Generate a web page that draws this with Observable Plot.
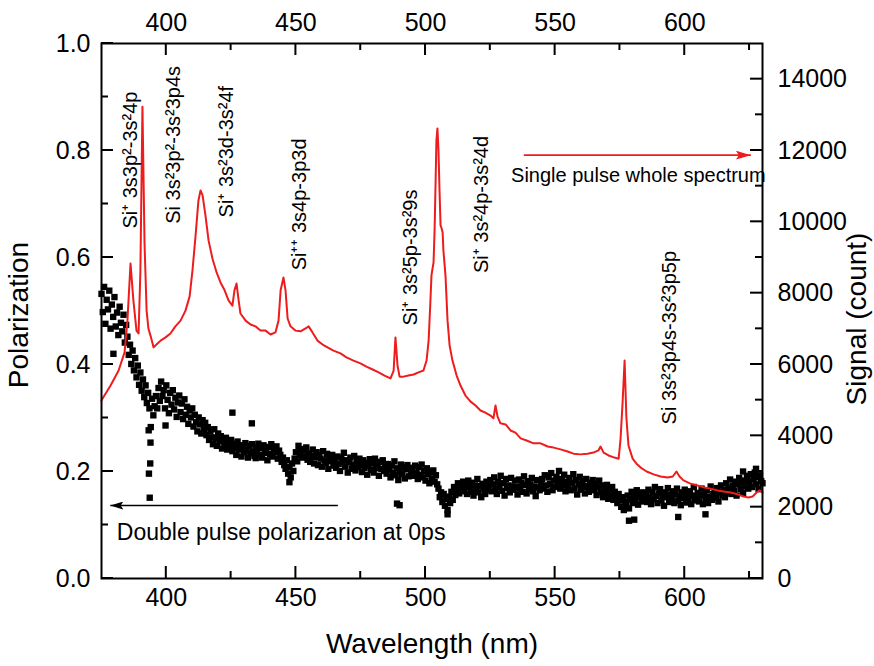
<!DOCTYPE html>
<html>
<head>
<meta charset="utf-8">
<script src="https://cdn.jsdelivr.net/npm/d3@7"></script>
<script src="https://cdn.jsdelivr.net/npm/@observablehq/plot@0.6"></script>
<style>
  html, body { margin: 0; padding: 0; background: #fff; }
  #chart svg { display: block; }
</style>
</head>
<body>
<div id="chart"></div>
<script>
// ---- Single pulse emission spectrum (right axis, counts) ----
const SIGNAL_MAX = 15000;
const signalWavelength = [
  375.0,378.5,381.6,383.9,385.0,386.2,387.3,388.5,389.3,390.0,
  390.8,391.6,392.4,393.1,393.9,395.1,396.2,397.8,399.7,401.6,
  403.5,405.5,407.4,409.0,410.1,411.3,412.4,413.2,414.0,415.1,
  416.3,417.8,419.4,420.9,422.5,424.0,425.5,426.3,427.1,427.9,
  428.6,430.6,432.5,434.4,436.3,438.3,440.2,442.1,443.3,444.1,
  445.2,446.0,446.8,447.9,449.8,451.8,453.7,454.9,456.4,458.3,
  460.3,462.2,464.5,467.2,469.5,472.2,474.9,477.2,479.6,481.9,
  484.2,486.5,487.7,488.4,489.2,490.0,491.5,493.4,495.4,497.3,
  499.2,500.4,501.2,501.9,502.3,502.7,503.1,503.5,503.9,504.2,
  504.6,505.0,505.4,505.8,506.2,506.6,506.9,507.7,508.5,509.3,
  510.4,512.0,513.5,515.4,517.4,519.3,521.2,523.1,525.1,526.2,
  527.0,527.8,528.9,530.9,532.8,534.7,536.7,539.0,541.7,544.4,
  547.1,549.4,552.1,554.8,557.1,559.8,562.5,564.8,566.7,567.5,
  568.7,570.6,572.9,574.5,575.2,576.0,576.8,577.5,578.3,579.9,
  581.4,583.0,585.3,588.0,590.7,593.4,595.4,596.8,598.0,599.5,
  602.2,604.9,607.6,610.0,612.7,615.0,617.7,620.4,622.7,624.6,
  626.2,627.7,628.9,630.0
];
const signalCount = [
  5000,5410,5830,6340,7230,8830,7800,6950,6870,8600,
  13230,9400,7510,7010,6810,6480,6560,6670,6760,6870,
  7070,7230,7510,7910,8640,9620,10600,10880,10740,10180,
  9480,8970,8580,8300,8080,7800,7650,8080,8270,7800,
  7430,7230,7120,7070,6950,6950,6840,6900,7230,8080,
  8440,8080,7290,7070,6950,6930,7010,7070,6900,6670,
  6560,6480,6390,6310,6200,6110,6030,5940,5860,5780,
  5690,5610,5830,6760,5970,5660,5660,5690,5720,5780,
  5830,6110,6670,7800,8500,8690,8860,9760,11160,12280,
  12620,12000,10880,9900,9820,9700,9200,8500,7230,6530,
  6110,5690,5410,5130,4960,4850,4710,4650,4570,4490,
  4850,4540,4350,4320,4150,4090,3930,3870,3790,3790,
  3700,3670,3620,3560,3500,3480,3500,3530,3590,3700,
  3530,3450,3390,3360,3870,4900,6110,4500,3730,3360,
  3220,3110,3000,2920,2860,2830,2860,3000,2860,2750,
  2660,2610,2550,2520,2470,2440,2410,2360,2300,2270,
  2300,2410,2470,2410
];

// ---- Double pulse polarization at 0 ps (left axis), sampled every 0.5 nm from 375 nm ----
const POL_START = 375;
const POL_STEP = 0.5;
const polarization = [
  0.532,0.498,0.545,0.476,0.521,0.503,0.538,0.467,0.512,0.489,0.526,0.471,0.497,0.455,0.508,0.478,0.462,0.493,0.441,0.474,
  0.452,0.418,0.437,0.401,0.426,0.389,0.412,0.376,0.398,0.362,0.385,0.351,0.372,0.339,0.361,0.328,0.347,0.318,0.283,0.336,
  0.305,0.322,0.341,0.318,0.356,0.332,0.368,0.341,0.352,0.318,0.361,0.334,0.309,0.347,0.325,0.352,0.316,0.338,0.302,0.329,
  0.342,0.311,0.327,0.298,0.335,0.306,0.321,0.289,0.314,0.301,0.318,0.284,0.306,0.292,0.275,0.301,0.288,0.271,0.296,0.279,
  0.291,0.268,0.283,0.259,0.276,0.264,0.251,0.279,0.262,0.248,0.271,0.256,0.266,0.243,0.258,0.249,0.263,0.241,0.255,0.246,
  0.259,0.238,0.252,0.244,0.231,0.256,0.241,0.249,0.228,0.247,0.236,0.253,0.239,0.226,0.248,0.234,0.251,0.237,0.229,0.245,
  0.238,0.252,0.231,0.244,0.226,0.249,0.235,0.242,0.221,0.246,0.233,0.251,0.228,0.240,0.236,0.247,0.224,0.239,0.231,0.218,
  0.226,0.212,0.205,0.221,0.196,0.208,0.189,0.215,0.201,0.224,0.236,0.219,0.248,0.231,0.242,0.226,0.239,0.228,0.245,0.222,
  0.234,0.218,0.229,0.241,0.215,0.227,0.236,0.212,0.231,0.224,0.209,0.238,0.221,0.216,0.233,0.205,0.226,0.219,0.231,0.211,
  0.222,0.207,0.228,0.214,0.201,0.226,0.218,0.235,0.209,0.221,0.198,0.217,0.226,0.205,0.213,0.229,0.202,0.219,0.208,0.224,
  0.212,0.199,0.221,0.207,0.216,0.194,0.211,0.223,0.203,0.215,0.198,0.224,0.206,0.213,0.192,0.218,0.205,0.221,0.201,0.211,
  0.196,0.214,0.203,0.189,0.211,0.198,0.219,0.193,0.206,0.184,0.201,0.213,0.195,0.208,0.187,0.204,0.212,0.191,0.207,0.198,
  0.205,0.192,0.211,0.197,0.186,0.208,0.194,0.213,0.189,0.201,0.183,0.206,0.195,0.178,0.199,0.187,0.202,0.181,0.193,0.176,
  0.168,0.152,0.161,0.143,0.158,0.136,0.149,0.128,0.153,0.141,0.162,0.147,0.171,0.156,0.166,0.178,0.159,0.172,0.163,0.181,
  0.168,0.176,0.158,0.183,0.171,0.162,0.179,0.155,0.174,0.166,0.186,0.161,0.173,0.152,0.177,0.169,0.158,0.181,0.165,0.175,
  0.184,0.163,0.176,0.189,0.168,0.158,0.181,0.171,0.192,0.164,0.178,0.155,0.186,0.169,0.174,0.161,0.188,0.172,0.166,0.183,
  0.171,0.157,0.185,0.168,0.179,0.162,0.191,0.175,0.159,0.182,0.167,0.176,0.188,0.163,0.172,0.154,0.184,0.170,0.165,0.179,
  0.186,0.168,0.193,0.174,0.162,0.189,0.177,0.197,0.165,0.183,0.171,0.190,0.179,0.201,0.168,0.186,0.175,0.194,0.163,0.181,
  0.172,0.188,0.165,0.179,0.195,0.168,0.184,0.157,0.176,0.190,0.166,0.181,0.171,0.159,0.186,0.173,0.162,0.179,0.168,0.184,
  0.165,0.177,0.156,0.171,0.183,0.161,0.174,0.152,0.168,0.158,0.175,0.149,0.166,0.155,0.171,0.147,0.162,0.153,0.141,0.158,
  0.146,0.134,0.152,0.128,0.143,0.137,0.155,0.131,0.148,0.162,0.141,0.156,0.149,0.165,0.138,0.159,0.152,0.144,0.161,0.147,
  0.158,0.143,0.166,0.151,0.139,0.162,0.148,0.171,0.154,0.141,0.159,0.167,0.146,0.155,0.136,0.161,0.152,0.169,0.143,0.157,
  0.149,0.163,0.141,0.157,0.168,0.145,0.153,0.137,0.161,0.150,0.166,0.142,0.158,0.147,0.163,0.139,0.155,0.171,0.146,0.152,
  0.160,0.144,0.155,0.168,0.139,0.157,0.149,0.165,0.141,0.153,0.172,0.147,0.158,0.163,0.151,0.169,0.144,0.161,0.174,0.155,
  0.166,0.152,0.178,0.161,0.170,0.185,0.158,0.173,0.164,0.181,0.155,0.176,0.188,0.167,0.179,0.160,0.183,0.172,0.192,0.168,
  0.181,0.195,0.171,0.186,0.198,0.176,0.189,0.167,0.193,0.182,0.178
];
// isolated points off the main band
const polOutlierWavelength = [379.6, 393.2, 393.9, 393.8, 393.3, 393.6, 399.7, 425.5, 433.0, 434.5, 447.5, 489.0, 490.0, 508.5, 578.5, 580.5, 597.5, 608.0, 622.5, 627.5];
const polOutlierValue      = [0.42,  0.277, 0.254, 0.215, 0.196, 0.151, 0.286, 0.31,  0.29,  0.225, 0.18,  0.14,  0.137, 0.12,  0.108, 0.11,  0.115, 0.12,  0.2,   0.205];

// ---- Axis ticks ----
const X_DOMAIN = [375, 630];
const xMajor = [400, 450, 500, 550, 600];
const xMinor = [425, 475, 525, 575, 625];
const polMajor = [0, 0.2, 0.4, 0.6, 0.8, 1.0];
const polMinor = [0.1, 0.3, 0.5, 0.7, 0.9];
const signalMajor = [0, 2000, 4000, 6000, 8000, 10000, 12000, 14000];
const signalMinor = [1000, 3000, 5000, 7000, 9000, 11000, 13000];

// ---- Emission line assignments (wavelength of label, polarization at label foot) ----
const lineLabels = [
  "Si\u207A 3s3p\u00B2-3s\u00B24p",
  "Si 3s\u00B23p\u00B2-3s\u00B23p4s",
  "Si\u207A 3s\u00B23d-3s\u00B24f",
  "Si\u207A\u207A 3s4p-3p3d",
  "Si\u207A 3s\u00B25p-3s\u00B29s",
  "Si\u207A 3s\u00B24p-3s\u00B24d",
  "Si 3s\u00B23p4s-3s\u00B23p5p"
];
const lineLabelWavelength = [386.4, 402.7, 423.3, 451.6, 494.1, 521.5, 594.2];
const lineLabelFoot = [0.654, 0.663, 0.675, 0.576, 0.473, 0.571, 0.288];

// ---- Series annotations ----
const spectrumNote = {text: "Single pulse whole spectrum", x: 533.0, y: 0.753};
const spectrumArrow = {x1: 537.9, x2: 625.5, y1: 0.7913, y2: 0.7913};
const polNote = {text: "Double pulse polarizarion at 0ps", x: 380.9, y: 0.0865};
const polArrow = {x1: 466.2, x2: 378.4, y1: 0.1364, y2: 0.1364};

// ---- Layout ----
const W = 874, H = 666, ML = 101, MR = 112, MT = 43, MB = 88;
const innerW = W - ML - MR, innerH = H - MT - MB;
const MAJOR = 12, MINOR = 7, TICK_W = 2;
const RED = "#ee1c1c";
const FONT = "'Liberation Sans', Arial, Helvetica, sans-serif";
const toPol = (s) => s / SIGNAL_MAX;
// pixel lengths converted to data units
const pxX = (px) => (px / innerW) * (X_DOMAIN[1] - X_DOMAIN[0]);
const pxY = (px) => px / innerH;

const polData = polarization
  .map((p, i) => ({wavelength: POL_START + i * POL_STEP, polarization: p}))
  .concat(polOutlierWavelength.map((w, i) => ({wavelength: w, polarization: polOutlierValue[i]})));
const signalData = signalWavelength.map((w, i) => ({wavelength: w, signal: signalCount[i]}));
const labelData = lineLabels.map((t, i) => ({text: t, wavelength: lineLabelWavelength[i], foot: lineLabelFoot[i]}));

// inward ticks on all four sides, drawn as thin filled rectangles
const half = TICK_W / 2;
const tickFill = {fill: "#000", stroke: "none", inset: 0};
const xTicks = (values, len) => [
  Plot.rect(values, {x1: (d) => d - pxX(half), x2: (d) => d + pxX(half), y1: 0, y2: pxY(len), ...tickFill}),
  Plot.rect(values, {x1: (d) => d - pxX(half), x2: (d) => d + pxX(half), y1: 1 - pxY(len), y2: 1, ...tickFill})
];
const leftTicks = (values, len) =>
  Plot.rect(values, {x1: X_DOMAIN[0], x2: X_DOMAIN[0] + pxX(len), y1: (d) => d - pxY(half), y2: (d) => d + pxY(half), ...tickFill});
const rightTicks = (values, len) =>
  Plot.rect(values, {x1: X_DOMAIN[1] - pxX(len), x2: X_DOMAIN[1], y1: (d) => toPol(d) - pxY(half), y2: (d) => toPol(d) + pxY(half), ...tickFill});

const chart = Plot.plot({
  width: W, height: H,
  marginLeft: ML, marginRight: MR, marginTop: MT, marginBottom: MB,
  style: {fontFamily: FONT, fontSize: "25px", color: "#000", background: "#fff"},
  x: {domain: X_DOMAIN},
  y: {domain: [0, 1]},
  marks: [
    // series annotation arrows (first, so their heads can be attached by order)
    Plot.link([spectrumArrow], {x1: "x1", y1: "y1", x2: "x2", y2: "y2", stroke: RED, strokeWidth: 1.6}),
    Plot.link([polArrow], {x1: "x1", y1: "y1", x2: "x2", y2: "y2", stroke: "#000", strokeWidth: 1.6}),

    // polarization scatter
    Plot.dot(polData, {x: "wavelength", y: "polarization", symbol: "square", r: 3.6, fill: "#000", stroke: "none"}),
    // emission spectrum, drawn against the signal axis
    Plot.line(signalData, {x: "wavelength", y: (d) => toPol(d.signal), stroke: RED, strokeWidth: 2}),

    ...xTicks(xMajor, MAJOR),
    ...xTicks(xMinor, MINOR),
    leftTicks(polMajor, MAJOR),
    leftTicks(polMinor, MINOR),
    rightTicks(signalMajor, MAJOR),
    rightTicks(signalMinor, MINOR),
    Plot.frame({stroke: "#000", strokeWidth: 2}),

    // tick labels
    Plot.axisX(xMajor, {anchor: "bottom", tickSize: 0, tickPadding: 10, label: null}),
    Plot.axisX(xMajor, {anchor: "top", tickSize: 0, tickPadding: 13, label: null}),
    Plot.axisY(polMajor, {anchor: "left", tickSize: 0, tickPadding: 11, tickFormat: d3.format(".1f"), label: null}),
    Plot.axisY(signalMajor.map(toPol), {anchor: "right", tickSize: 0, tickPadding: 15,
      tickFormat: (d) => String(Math.round(d * SIGNAL_MAX)), label: null}),

    // axis titles
    Plot.text(["Wavelength (nm)"], {text: (d) => d, frameAnchor: "bottom", textAnchor: "middle", lineAnchor: "middle", dy: 66, fontSize: 28}),
    Plot.text(["Polarization"], {text: (d) => d, frameAnchor: "left", textAnchor: "middle", lineAnchor: "middle", dx: -82, dy: 4, rotate: -90, fontSize: 28}),
    Plot.text(["Signal (count)"], {text: (d) => d, frameAnchor: "right", textAnchor: "middle", lineAnchor: "middle", dx: 95, dy: 8, rotate: -90, fontSize: 28}),

    // line assignments
    Plot.text(labelData, {x: "wavelength", y: "foot", text: "text", rotate: -90, textAnchor: "start", fontSize: 20}),

    // annotation texts
    Plot.text([spectrumNote], {x: "x", y: "y", text: "text", textAnchor: "start", fontSize: 20}),
    Plot.text([polNote], {x: "x", y: "y", text: "text", textAnchor: "start", fontSize: 23})
  ]
});

const svg = d3.select(chart);

// filled arrow heads for the two annotation arrows
const defs = svg.insert("defs", ":first-child");
function addHead(id, color, len, wid) {
  defs.append("marker")
    .attr("id", id)
    .attr("viewBox", `0 0 ${len} ${wid}`)
    .attr("refX", len).attr("refY", wid / 2)
    .attr("markerWidth", len).attr("markerHeight", wid)
    .attr("markerUnits", "userSpaceOnUse")
    .attr("orient", "auto")
    .append("path")
    .attr("d", `M0,0L${len},${wid / 2}L0,${wid}L${len * 0.2},${wid / 2}Z`)
    .attr("fill", color);
}
addHead("head-red", RED, 15, 9);
addHead("head-black", "#000", 13, 8);
const heads = ["url(#head-red)", "url(#head-black)"];
svg.selectAll("g[aria-label='link']").each(function (_, i) {
  if (i < heads.length) d3.select(this).selectAll("path").attr("marker-end", heads[i]);
});

document.getElementById("chart").appendChild(chart);
</script>
</body>
</html>
